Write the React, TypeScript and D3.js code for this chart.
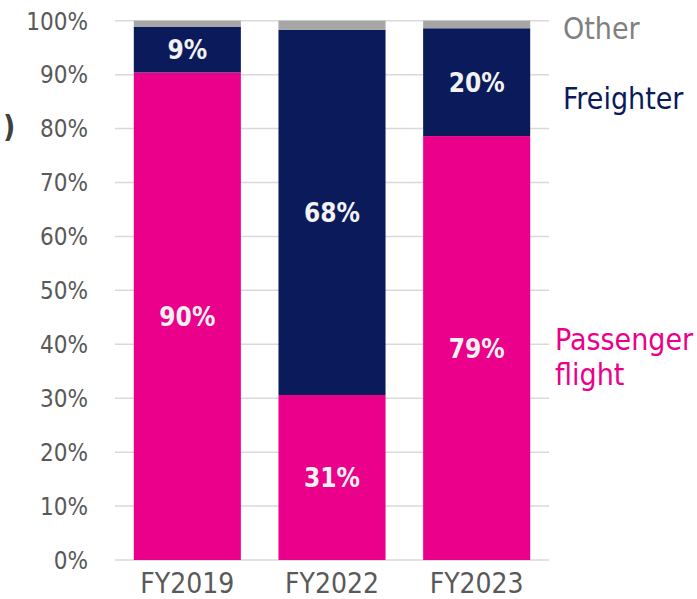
import React from "react";
import * as d3 from "d3";

const categories = ["FY2019", "FY2022", "FY2023"];
const passenger = [90.4, 30.6, 78.6];
const freighter = [8.5, 67.7, 20.0];
const other = [1.1, 1.7, 1.4];
const passengerLabels = ["90%", "31%", "79%"];
const freighterLabels = ["9%", "68%", "20%"];
const yTicks = [0, 10, 20, 30, 40, 50, 60, 70, 80, 90, 100];

const FONT = "'DejaVu Sans Condensed', 'DejaVu Sans', sans-serif";
const PINK = "#EA008A";
const NAVY = "#0A1A5B";
const GRAY = "#A6A6A6";

export default function App() {
  const W = 697;
  const H = 599;
  const x = d3.scaleBand<string>().domain(categories).range([115, 549]).paddingInner(0.26).paddingOuter(0.13);
  const y = d3.scaleLinear().domain([0, 100]).range([560, 20.7]);

  const rows = categories.map((c, i) => {
    const p0 = 0, p1 = passenger[i];
    const f0 = p1, f1 = p1 + freighter[i];
    const o0 = f1, o1 = f1 + other[i];
    return { c, p0, p1, f0, f1, o0, o1, i };
  });

  return (
    <svg width={W} height={H} style={{ position: "absolute", left: 0, top: 0 }} fontFamily={FONT}>
      <rect width={W} height={H} fill="#fff" />
      {yTicks.map((t) => (
        <g key={t}>
          <line x1={115} x2={549} y1={y(t)} y2={y(t)} stroke="#D9D9D9" strokeWidth={1.5} />
          <text x={88} y={y(t) + 8.8} textAnchor="end" fontSize={24} fill="#595959">
            {t}%
          </text>
        </g>
      ))}
      {rows.map((r) => {
        const bx = x(r.c)!;
        const bw = x.bandwidth();
        const cx = bx + bw / 2;
        return (
          <g key={r.c}>
            <rect x={bx} width={bw} y={y(r.p1)} height={y(r.p0) - y(r.p1)} fill={PINK} />
            <rect x={bx} width={bw} y={y(r.f1)} height={y(r.f0) - y(r.f1)} fill={NAVY} />
            <rect x={bx} width={bw} y={y(r.o1)} height={y(r.o0) - y(r.o1)} fill={GRAY} />
            <text x={cx} y={(y(r.p0) + y(r.p1)) / 2 + 9.5} textAnchor="middle" fontSize={26} fontWeight="bold" fill="#F2F2F2">
              {passengerLabels[r.i]}
            </text>
            <text x={cx} y={(y(r.f0) + y(r.f1)) / 2 + 9.5} textAnchor="middle" fontSize={26} fontWeight="bold" fill="#F2F2F2">
              {freighterLabels[r.i]}
            </text>
            <text x={cx} y={593} textAnchor="middle" fontSize={28} fill="#595959">
              {r.c}
            </text>
          </g>
        );
      })}
      <text x={563} y={39} fontSize={30} fill="#808080">Other</text>
      <text x={563} y={109} fontSize={30} fill={NAVY}>Freighter</text>
      <text x={555} y={350} fontSize={30} fill={PINK}>Passenger</text>
      <text x={555} y={385} fontSize={30} fill={PINK}>flight</text>
      <text x={3} y={137} fontSize={30} fill="#404040" fontWeight="bold">)</text>
    </svg>
  );
}
